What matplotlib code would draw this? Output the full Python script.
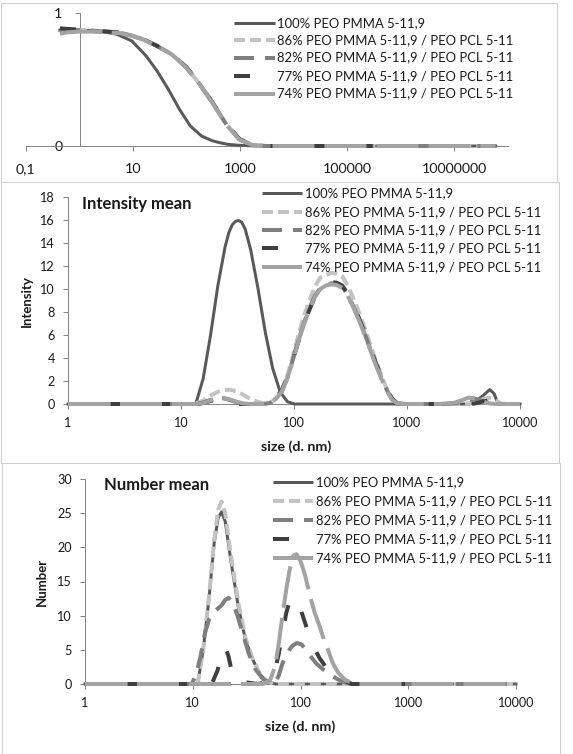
import matplotlib
matplotlib.use("Agg")
import matplotlib.pyplot as plt
from matplotlib.lines import Line2D
from matplotlib.ticker import NullLocator

plt.rcParams['font.family'] = ['Lato', 'DejaVu Sans']
plt.rcParams['lines.scale_dashes'] = False

# ---------------------------------------------------------------- data
series_labels = [
    "100% PEO PMMA 5-11,9",
    "86% PEO PMMA 5-11,9 / PEO PCL 5-11",
    "82% PEO PMMA 5-11,9 / PEO PCL 5-11",
    "77% PEO PMMA 5-11,9 / PEO PCL 5-11",
    "74% PEO PMMA 5-11,9 / PEO PCL 5-11",
]

# Panel 1: correlation function vs delay time
corr_ticks = [0.1, 10, 1000, 100000, 10000000]
corr_tick_labels = ["0,1", "10", "1000", "100000", "10000000"]
corr_yticks = [0, 1]
corr_ytick_labels = ["0", "1"]
corr_tau_100 = [0.43, 0.6, 1, 1.7, 3, 5, 9.5, 17.8, 28.6, 46, 74, 118, 191, 300, 417,
                600, 917, 1300, 2030, 5000, 20000, 1e5, 5e5, 2e6, 1e7, 6e7]
corr_g_100 = [0.87, 0.872, 0.872, 0.868, 0.857, 0.84, 0.79, 0.675, 0.56, 0.425, 0.275,
              0.15, 0.075, 0.04, 0.025, 0.012, 0.006, 0.003, 0, 0, 0, 0, 0, 0, 0, 0]
corr_tau_blend = [0.43, 0.6, 1, 1.7, 3, 5.9, 9.5, 16, 28.6, 53, 100, 180, 307, 560, 980,
                  1700, 3000, 20000, 1e5, 5e5, 2e6, 1e7, 6e7]
corr_g_86 = [0.855, 0.865, 0.87, 0.865, 0.86, 0.85, 0.83, 0.80, 0.75, 0.69, 0.59, 0.46,
             0.325, 0.16, 0.05, 0.008, 0, 0, 0, 0, 0, 0, 0]
corr_g_82 = [0.875, 0.875, 0.872, 0.868, 0.86, 0.85, 0.83, 0.80, 0.75, 0.69, 0.59, 0.46,
             0.325, 0.16, 0.05, 0.008, 0, 0, 0, 0, 0, 0, 0]
corr_g_77 = [0.885, 0.88, 0.875, 0.87, 0.862, 0.852, 0.832, 0.80, 0.752, 0.69, 0.592,
             0.462, 0.327, 0.162, 0.052, 0.009, 0, 0, 0, 0, 0, 0, 0]
corr_g_74 = [0.845, 0.855, 0.86, 0.86, 0.855, 0.848, 0.828, 0.798, 0.748, 0.688, 0.588,
             0.458, 0.323, 0.158, 0.048, 0.007, 0, 0, 0, 0, 0, 0, 0]

# Panel 2: intensity distribution
size_ticks = [1, 10, 100, 1000, 10000]
size_tick_labels = ["1", "10", "100", "1000", "10000"]
int_ticks = [0, 2, 4, 6, 8, 10, 12, 14, 16, 18]
int_size_100 = [1, 12, 13.5, 15.7, 18.2, 21.2, 24.6, 26.5, 28.5, 30.5, 32.5, 34.5, 37,
                41.4, 48.1, 55.8, 64.8, 75.3, 87.4, 101, 3600, 4200, 4800, 5400, 5900,
                6400, 10000]
int_val_100 = [0, 0, 0, 2.2, 5.9, 10.3, 13.7, 14.9, 15.6, 15.9, 15.95, 15.8, 15.2,
               13.4, 10.0, 6.2, 3.1, 1.06, 0.2, 0, 0, 0.35, 0.8, 1.25, 0.9, 0, 0]
int_size_blend = [1, 12, 14, 16, 18, 20.5, 23.5, 27, 31, 35.5,
                  41, 47, 54, 62, 70, 78, 87, 98, 110, 122,
                  137, 153, 171, 191, 213, 238, 267, 299, 335, 375,
                  419, 469, 524, 587, 656, 734, 820, 1000, 2000, 2600,
                  3000, 3500, 4000, 4600, 5300, 6000, 6800, 7500, 10000]
int_val_86 = [0, 0, 0.1, 0.35, 0.7, 1.0, 1.2, 1.25, 1.1, 0.8,
              0.45, 0.2, 0.05, 0.1, 0.55, 1.2, 2.4, 4.2, 6.1, 7.6,
              9.0, 10.2, 11.0, 11.2, 11.4, 11.35, 11.1, 10.3, 9.2, 8.0,
              6.7, 5.3, 3.9, 2.6, 1.4, 0.5, 0.05, 0, 0, 0,
              0, 0.05, 0.2, 0.4, 0.55, 0.35, 0.05, 0, 0]
int_val_82 = [0, 0, 0, 0.15, 0.35, 0.5, 0.5, 0.35, 0.15, 0.05,
              0, 0, 0, 0.1, 0.5, 1.1, 2.2, 3.9, 5.6, 7.0,
              8.3, 9.4, 10.1, 10.3, 10.5, 10.45, 10.2, 9.5, 8.5, 7.4,
              6.2, 4.9, 3.6, 2.4, 1.3, 0.45, 0.05, 0, 0, 0.05,
              0.15, 0.35, 0.45, 0.3, 0.1, 0, 0, 0, 0]
int_val_77 = [0, 0, 0, 0.1, 0.25, 0.35, 0.3, 0.15, 0, 0,
              0, 0, 0, 0.15, 0.6, 1.2, 2.3, 3.9, 5.5, 6.9,
              8.2, 9.3, 10.0, 10.4, 10.6, 10.55, 10.3, 9.6, 8.6, 7.5,
              6.3, 5.0, 3.7, 2.5, 1.4, 0.5, 0.05, 0, 0, 0,
              0, 0, 0.05, 0.2, 0.3, 0.15, 0, 0, 0]
int_val_74 = [0, 0, 0, 0.1, 0.3, 0.5, 0.55, 0.4, 0.2, 0.05,
              0, 0, 0, 0.1, 0.5, 1.1, 2.2, 3.8, 5.5, 6.9,
              8.2, 9.3, 10.0, 10.3, 10.4, 10.35, 10.1, 9.4, 8.4, 7.3,
              6.1, 4.8, 3.5, 2.3, 1.2, 0.4, 0.05, 0, 0, 0.1,
              0.3, 0.55, 0.5, 0.25, 0.05, 0, 0, 0, 0]

# Panel 3: number distribution
num_ticks = [0, 5, 10, 15, 20, 25, 30]
num_size_100 = [1, 10, 11.1, 12.5, 14.1, 15.8, 17.2, 18.5, 20, 22.5, 26.4, 30.8, 36, 42,
                49, 58, 10000]
num_val_100 = [0, 0, 0, 5, 12.3, 20.6, 24.3, 25.2, 23.8, 18.2, 11.4, 6.5, 3.6, 1.4,
               0.4, 0, 0]
num_size_86 = [1, 10, 11.1, 12.5, 14.1, 15.8, 17.2, 18.5, 20, 22.5, 26.4, 30.8, 36, 42,
               49, 58, 10000]
num_val_86 = [0, 0, 0, 5, 12.5, 21, 25.5, 26.7, 25, 19, 12, 6.8, 3.7, 1.5, 0.4, 0, 0]
num_size_82 = [1, 9.8, 10.8, 11.8, 13, 14.2, 15.5, 17, 18.5, 20,
               21.5, 23.5, 26, 29, 33, 38, 45, 55, 62, 68,
               75, 83, 92, 102, 113, 125, 140, 160, 185, 215,
               250, 300, 10000]
num_val_82 = [0, 0, 1.5, 4, 7.5, 9.5, 10.5, 11, 11.5, 12.3,
              12.6, 12, 10, 7.5, 4.5, 2.2, 0.7, 0, 1, 3,
              4.5, 5.5, 6, 5.8, 5, 4, 3, 2.2, 1.5, 0.8,
              0.3, 0, 0]
num_size_77 = [1, 15, 17, 18.5, 20, 21.5, 24, 40, 50, 58, 63, 68, 74, 80, 86, 92, 100,
               110, 120, 132, 150, 170, 195, 225, 260, 300, 10000]
num_val_77 = [0, 0, 2, 4.5, 5.5, 4, 0.5, 0, 0.3, 2, 4.5, 7.5, 10.5, 12.3, 12.7, 12.3,
              11, 9, 7.2, 5.5, 3.8, 2.6, 1.8, 1.0, 0.4, 0, 0]
num_size_74 = [1, 45, 52, 58, 63, 68, 74, 80, 86, 92, 100, 110, 122, 135, 150, 165, 180,
               200, 225, 260, 320, 10000]
num_val_74 = [0, 0, 0.5, 2.5, 6, 10, 14, 17, 18.8, 19, 18, 16, 13, 10.5, 8.5, 6.5, 5,
              3, 1.6, 0.6, 0, 0]

# ---------------------------------------------------------------- figure
W, H, DPI = 573, 754, 100
PX = 72.0 / DPI
AX_COLOR = "#868686"
TXT = "#1a1a1a"
BORDER = "#cfcfcf"

fig = plt.figure(figsize=(W / DPI, H / DPI), dpi=DPI)
fig.patch.set_facecolor("white")
R = fig.canvas.get_renderer()

styles = [
    dict(color="#595959", linewidth=3.0 * PX, linestyle="-"),
    dict(color="#c3c3c3", linewidth=4.0 * PX, dashes=(11 * PX, 5 * PX)),
    dict(color="#7f7f7f", linewidth=4.0 * PX, dashes=(20 * PX, 11 * PX)),
    dict(color="#3f3f3f", linewidth=4.0 * PX, dashes=(16 * PX, 27 * PX)),
    dict(color="#a3a3a3", linewidth=4.0 * PX, dashes=(42 * PX, 10 * PX)),
]


def fx(x):
    return x / W


def fy(y):
    return 1 - y / H


def fit_size(s, target, weight="normal", base=10.0):
    t = fig.text(0, 0, s, fontsize=base, fontweight=weight)
    w = t.get_window_extent(renderer=R).width
    t.remove()
    return base * target / w


FS_LEG = fit_size(series_labels[1], 234)
FS_T1 = fit_size("10000000", 66)
FS_T2 = fit_size("10000", 36.6)
FS_TITLE = fit_size("Intensity mean", 110, "bold")
FS_XLAB = fit_size("size (d. nm)", 70, "bold")
FS_YLAB = fit_size("Intensity", 52, "bold")


def frame(x0, y0, x1, y1, bottom=True):
    pts = [(x0, y1), (x0, y0), (x1, y0), (x1, y1)]
    if bottom:
        pts.append((x0, y1))
    fig.add_artist(Line2D([fx(p[0]) for p in pts], [fy(p[1]) for p in pts],
                          transform=fig.transFigure, color=BORDER,
                          linewidth=1.0 * PX))


def make_axes(left, right, top, bottom):
    ax = fig.add_axes([fx(left), fy(bottom), (right - left) / W, (bottom - top) / H])
    ax.set_facecolor("none")
    for s in ("top", "right"):
        ax.spines[s].set_visible(False)
    for s in ("left", "bottom"):
        ax.spines[s].set_color(AX_COLOR)
        ax.spines[s].set_linewidth(1.0 * PX)
    ax.set_xscale("log")
    ax.xaxis.set_minor_locator(NullLocator())
    return ax


def legend(x0, x1, xt, ys):
    for st, name, y in zip(styles, series_labels, ys):
        fig.add_artist(Line2D([fx(x0), fx(x1)], [fy(y), fy(y)],
                              transform=fig.transFigure, solid_capstyle="butt",
                              dash_capstyle="butt", **st))
        fig.text(fx(xt), fy(y), name, ha="left", va="center",
                 fontsize=FS_LEG, color=TXT)


def plot_series(ax, xs, ys):
    for st, x, y in zip(styles, xs, ys):
        ax.plot(x, y, clip_on=False, zorder=3, solid_joinstyle="round",
                dash_joinstyle="round", dash_capstyle="butt", **st)


# panel frames
frame(0.5, 3, 557, 182)
frame(0.5, 182, 559, 463)
frame(2, 463, 560, 760, bottom=False)

# ---------------- panel 1
ax1 = make_axes(26, 507.5, 13, 146)
ax1.set_xlim(0.1, 1e8)
ax1.set_ylim(0, 1)
ax1.spines["left"].set_position(("data", 1))
ax1.set_xticks(corr_ticks, corr_tick_labels)
ax1.set_yticks(corr_yticks, corr_ytick_labels)
ax1.xaxis.set_minor_locator(NullLocator())
ax1.tick_params(direction="out", length=5 * PX, width=1.0 * PX, color=AX_COLOR,
                labelcolor=TXT, labelsize=FS_T1, pad=12 * PX)
plot_series(ax1,
            [corr_tau_100, corr_tau_blend, corr_tau_blend, corr_tau_blend, corr_tau_blend],
            [corr_g_100, corr_g_86, corr_g_82, corr_g_77, corr_g_74])
legend(234, 275, 277, [22.7, 40, 57.5, 75.7, 93.5])

# ---------------- panel 2
ax2 = make_axes(68, 520, 197, 404)
ax2.set_xlim(1, 10000)
ax2.set_ylim(0, 18)
ax2.set_xticks(size_ticks, size_tick_labels)
ax2.xaxis.set_minor_locator(NullLocator())
ax2.set_yticks(int_ticks, [str(v) for v in int_ticks])
ax2.tick_params(direction="out", length=5 * PX, width=1.0 * PX, color=AX_COLOR,
                labelcolor=TXT, labelsize=FS_T2)
ax2.tick_params(axis="y", pad=8 * PX)
ax2.tick_params(axis="x", pad=8 * PX)
plot_series(ax2,
            [int_size_100, int_size_blend, int_size_blend, int_size_blend, int_size_blend],
            [int_val_100, int_val_86, int_val_82, int_val_77, int_val_74])
ax2.set_xlabel("size (d. nm)", fontsize=FS_XLAB, fontweight="bold", color=TXT,
               va="center")
ax2.xaxis.set_label_coords(fx(296), fy(447), transform=fig.transFigure)
ax2.set_ylabel("Intensity", fontsize=FS_YLAB, fontweight="bold", color=TXT,
               va="center")
ax2.yaxis.set_label_coords(fx(27), fy(301), transform=fig.transFigure)
fig.text(fx(82), fy(204), "Intensity mean", fontsize=FS_TITLE, fontweight="bold",
         ha="left", va="center", color=TXT)
legend(262, 302, 305, [192.7, 211.7, 230, 248.3, 266.7])

# ---------------- panel 3
ax3 = make_axes(85, 516, 479, 684)
ax3.set_xlim(1, 10000)
ax3.set_ylim(0, 30)
ax3.set_xticks(size_ticks, size_tick_labels)
ax3.xaxis.set_minor_locator(NullLocator())
ax3.set_yticks(num_ticks, [str(v) for v in num_ticks])
ax3.tick_params(direction="out", length=5 * PX, width=1.0 * PX, color=AX_COLOR,
                labelcolor=TXT, labelsize=FS_T2)
ax3.tick_params(axis="y", pad=8 * PX)
ax3.tick_params(axis="x", pad=8 * PX)
plot_series(ax3,
            [num_size_100, num_size_86, num_size_82, num_size_77, num_size_74],
            [num_val_100, num_val_86, num_val_82, num_val_77, num_val_74])
ax3.set_xlabel("size (d. nm)", fontsize=FS_XLAB, fontweight="bold", color=TXT,
               va="center")
ax3.xaxis.set_label_coords(fx(300), fy(727), transform=fig.transFigure)
ax3.set_ylabel("Number", fontsize=FS_YLAB, fontweight="bold", color=TXT,
               va="center")
ax3.yaxis.set_label_coords(fx(42), fy(582), transform=fig.transFigure)
fig.text(fx(104), fy(485), "Number mean", fontsize=FS_TITLE, fontweight="bold",
         ha="left", va="center", color=TXT)
legend(273, 313, 316, [482, 501, 520, 539, 558])

fig.savefig("out.png", dpi=DPI, facecolor="white")
